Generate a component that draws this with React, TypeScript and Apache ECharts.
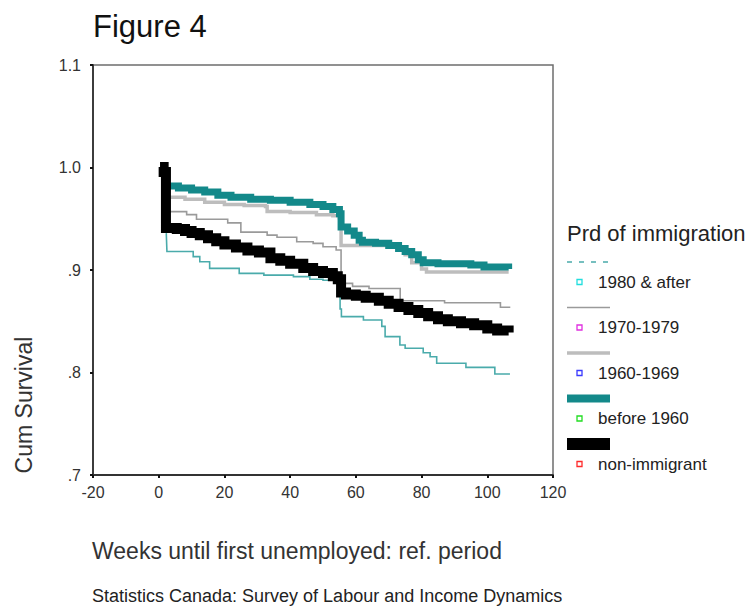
import React, { useEffect, useRef } from "react";
import * as echarts from "echarts";

// ---- data (weeks, cumulative survival) ----
const groupNames = ["1980 & after", "1970-1979", "1960-1969", "before 1960", "non-immigrant"];

const after1980: [number, number][] = [
  [2.3, 0.936], [2.5, 0.918], [10.5, 0.913], [12.5, 0.908], [15.5, 0.9016], [24.5, 0.8967],
  [32, 0.895], [41, 0.8935], [46, 0.891], [50, 0.89], [55.2, 0.862], [55.6, 0.8545],
  [62.3, 0.8512], [67.9, 0.845], [68.9, 0.835], [73.4, 0.8268], [75, 0.8236], [80.5, 0.8193],
  [82.6, 0.8154], [84.6, 0.809], [93.5, 0.805], [102.3, 0.7985], [106.9, 0.7985],
];

const y1970s: [number, number][] = [
  [3, 0.957], [8.5, 0.954], [11.5, 0.9495], [21, 0.946], [25, 0.937], [33, 0.934], [36, 0.932],
  [42, 0.9276], [47, 0.926], [50, 0.9227], [54, 0.9195], [55.5, 0.887], [59, 0.884], [64, 0.882],
  [73.5, 0.87], [87, 0.868], [104, 0.8636], [107, 0.8636],
];

const y1960s: [number, number][] = [
  [3, 0.971], [8, 0.969], [14, 0.966], [20, 0.964], [26, 0.963], [32.5, 0.962], [33, 0.957],
  [40, 0.956], [48, 0.954], [53, 0.953], [55, 0.951], [55.5, 0.924], [62, 0.924], [70, 0.923],
  [73, 0.921], [75, 0.915], [77, 0.907], [80, 0.901], [81.5, 0.898], [106.5, 0.898],
];

const before1960: [number, number][] = [
  [2.5, 0.982], [6, 0.98], [10, 0.978], [14, 0.976], [18, 0.973], [22, 0.971], [28, 0.969],
  [34, 0.968], [40, 0.966], [46, 0.964], [50, 0.962], [53, 0.959], [55, 0.955], [55.5, 0.942],
  [57.5, 0.938], [59.5, 0.934], [61, 0.929], [62, 0.927], [66, 0.926], [70, 0.924], [73, 0.921],
  [75, 0.918], [77, 0.915], [79, 0.91], [80.5, 0.907], [85, 0.906], [95, 0.905], [99, 0.903],
  [106.5, 0.901],
];

const nonImmigrant: [number, number][] = [
  [0.4, 1.0005], [1.5, 0.9955], [2.2, 0.941], [5.5, 0.94], [8, 0.938], [10, 0.936], [12.5, 0.934],
  [15, 0.931], [17.5, 0.928], [20, 0.925], [23.5, 0.922], [27, 0.919], [30.5, 0.917], [34, 0.9115],
  [37, 0.909], [40, 0.906], [44, 0.902], [47, 0.899], [50, 0.897], [53, 0.894], [54.5, 0.891],
  [55.5, 0.878], [57, 0.876], [60, 0.875], [63, 0.873], [67, 0.87], [70, 0.867], [73, 0.864],
  [76, 0.861], [79, 0.858], [82, 0.855], [85, 0.852], [88, 0.85], [92, 0.848], [96, 0.846],
  [100, 0.843], [103, 0.841], [106.5, 0.839],
];

const seriesData = [after1980, y1970s, y1960s, before1960, nonImmigrant];

const FONT = '"Liberation Sans", Arial, Helvetica, sans-serif';

const lineStyles = [
  { color: "#4aabab", width: 1.6, dash: [5, 7] as number[] | null, marker: "#22dede" },
  { color: "#9a9a9a", width: 1.6, dash: null, marker: "#e030e0" },
  { color: "#bdbdbd", width: 3.5, dash: null, marker: "#3a3aff" },
  { color: "#13898a", width: 7, dash: null, marker: "#22dd22" },
  { color: "#000000", width: 10, dash: null, marker: "#ff2a2a" },
];

function fmtY(v: number): string {
  const s = v.toFixed(1);
  return s.startsWith("0") ? s.slice(1) : s;
}

export default function App() {
  const ref = useRef<HTMLDivElement>(null);

  useEffect(() => {
    if (!ref.current) return;
    const chart = echarts.init(ref.current, undefined, { renderer: "svg" });

    const legendGraphics: any[] = [
      {
        type: "text",
        x: 567,
        y: 233,
        style: {
          text: "Prd of immigration",
          fontSize: 22,
          fontFamily: FONT,
          fill: "#222",
          align: "left",
          verticalAlign: "middle",
        },
      },
    ];
    groupNames.forEach((name, i) => {
      const st = lineStyles[i];
      const lineY = 262 + 45.5 * i;
      const labelY = lineY + 20;
      legendGraphics.push({
        type: "line",
        shape: { x1: 567, y1: lineY, x2: 610, y2: lineY },
        style: { stroke: st.color, lineWidth: i === 4 ? 12 : i === 3 ? 8 : st.width, lineDash: st.dash || undefined },
      });
      legendGraphics.push({
        type: "rect",
        shape: { x: 577, y: labelY - 2.5, width: 5, height: 5 },
        style: { fill: "#fff", stroke: st.marker, lineWidth: 1.3 },
      });
      legendGraphics.push({
        type: "text",
        x: 598,
        y: labelY,
        style: {
          text: name,
          fontSize: 17,
          fontFamily: FONT,
          fill: "#222",
          align: "left",
          verticalAlign: "middle",
        },
      });
    });

    const option: any = {
      animation: false,
      backgroundColor: "#ffffff",
      grid: {
        left: 93,
        right: 202,
        top: 65,
        bottom: 131,
        show: true,
        borderColor: "#6e6e6e",
        borderWidth: 1.5,
        backgroundColor: "transparent",
      },
      xAxis: {
        type: "value",
        min: -20,
        max: 120,
        interval: 20,
        splitLine: { show: false },
        axisLine: { show: true, onZero: false, lineStyle: { color: "#333", width: 1.8 } },
        axisTick: { show: true, inside: false, length: 3, lineStyle: { color: "#111", width: 2 } },
        axisLabel: { color: "#333", fontSize: 16, fontFamily: FONT, margin: 9 },
      },
      yAxis: {
        type: "value",
        min: 0.7,
        max: 1.1,
        interval: 0.1,
        splitLine: { show: false },
        axisLine: { show: true, onZero: false, lineStyle: { color: "#333", width: 1.8 } },
        axisTick: { show: true, inside: false, length: 3, lineStyle: { color: "#111", width: 2 } },
        axisLabel: { color: "#333", fontSize: 16, fontFamily: FONT, margin: 12, formatter: (v: number) => fmtY(v) },
      },
      series: seriesData.map((data, i) => ({
        name: groupNames[i],
        type: "line",
        step: "end",
        data,
        showSymbol: false,
        symbol: "none",
        silent: true,
        z: 2 + i,
        lineStyle: { color: lineStyles[i].color, width: lineStyles[i].width, cap: "butt", join: "miter" },
      })),
      graphic: [
        {
          type: "text",
          x: 93,
          y: 26,
          style: { text: "Figure 4", fontSize: 31, fontFamily: FONT, fill: "#111", align: "left", verticalAlign: "middle" },
        },
        {
          type: "text",
          x: 24,
          y: 405,
          rotation: Math.PI / 2,
          style: { text: "Cum Survival", fontSize: 23, fontFamily: FONT, fill: "#333", align: "center", verticalAlign: "middle" },
        },
        {
          type: "text",
          x: 92,
          y: 551,
          style: {
            text: "Weeks until first unemployed: ref. period",
            fontSize: 23,
            fontFamily: FONT,
            fill: "#333",
            align: "left",
            verticalAlign: "middle",
          },
        },
        {
          type: "text",
          x: 92,
          y: 596,
          style: {
            text: "Statistics Canada: Survey of Labour and Income Dynamics",
            fontSize: 18,
            fontFamily: FONT,
            fill: "#222",
            align: "left",
            verticalAlign: "middle",
          },
        },
        ...legendGraphics,
      ],
    };

    chart.setOption(option);
    return () => chart.dispose();
  }, []);

  return (
    <div
      ref={ref}
      style={{ position: "fixed", left: 0, top: 0, width: 755, height: 606, background: "#fff" }}
    />
  );
}
